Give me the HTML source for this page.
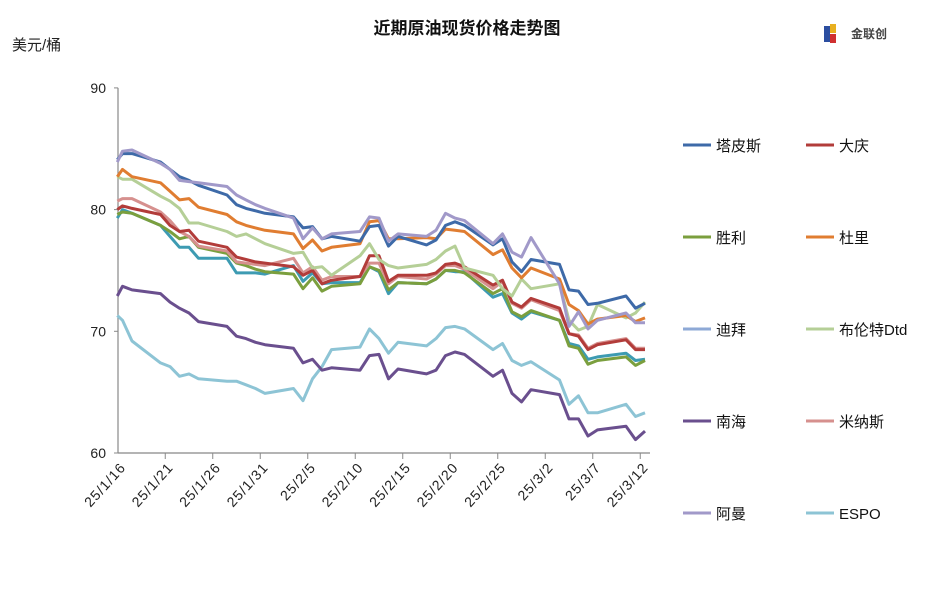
<!DOCTYPE html>
<html><head><meta charset="utf-8">
<style>
body{margin:0;background:#fff;}
svg{display:block;font-family:"Liberation Sans","Noto Sans CJK SC",sans-serif;}
</style></head>
<body>
<svg id="chart" width="937" height="601" viewBox="0 0 937 601">
<text x="467" y="34" text-anchor="middle" font-size="17" font-weight="bold" fill="#111">近期原油现货价格走势图</text>
<text x="12" y="50" font-size="15" fill="#222">美元/桶</text>
<g>
<rect x="824" y="26" width="6" height="16" fill="#2b4ea0"/>
<rect x="830" y="24" width="6" height="9" fill="#e8b020"/>
<rect x="830" y="34" width="6" height="9" fill="#d03030"/>
<text x="851" y="38" font-size="12" font-weight="bold" fill="#444">金联创</text>
</g>
<g id="axes"></g>
<g id="series"></g>
<g id="legend"></g>
</svg>
<script>
const days = [-0.55,0,1,4,5,6,7,8,11,12,13,14,15,18,19,20,21,22,25,26,27,28,29,32,33,34,35,36,39,40,41,42,43,46,47,48,49,50,53,54,55];
const tickDays = [0,5,10,15,20,25,30,35,40,45,50,55];
const tickLabels = ["25/1/16","25/1/21","25/1/26","25/1/31","25/2/5","25/2/10","25/2/15","25/2/20","25/2/25","25/3/2","25/3/7","25/3/12"];
const yTicks = [60,70,80,90];
const seriesNames = ["塔皮斯","大庆","胜利","杜里","迪拜","布伦特Dtd","南海","米纳斯","阿曼","ESPO"];
const tapis = [84.1,84.6,84.6,83.9,83.3,82.7,82.4,82.0,81.2,80.4,80.1,79.9,79.7,79.4,78.5,78.6,77.6,77.8,77.4,78.6,78.7,77.0,77.8,77.1,77.5,78.7,79.0,78.7,77.1,77.6,75.7,74.9,75.9,75.5,73.4,73.3,72.2,72.3,72.9,71.9,72.3];
const daqing = [80.0,80.3,80.1,79.6,78.7,78.2,78.3,77.4,76.9,76.1,75.9,75.7,75.6,75.3,74.6,75.0,73.9,74.2,74.5,76.2,76.2,74.1,74.6,74.6,74.8,75.5,75.6,75.3,73.8,74.2,72.4,72.0,72.7,71.9,69.8,69.6,68.5,68.9,69.3,68.5,68.5];
const shengli = [79.6,79.8,79.7,78.7,78.2,77.6,77.8,76.9,76.4,75.6,75.4,75.1,74.9,74.7,73.5,74.4,73.3,73.7,73.9,75.3,75.0,73.4,74.0,73.9,74.3,75.0,75.0,74.8,73.1,73.5,71.6,71.2,71.7,70.9,68.8,68.6,67.3,67.6,67.9,67.2,67.6];
const duri = [82.7,83.3,82.7,82.2,81.5,80.8,80.9,80.2,79.6,79.0,78.7,78.5,78.3,78.0,76.8,77.5,76.6,76.9,77.2,79.0,79.1,77.6,77.6,77.7,77.6,78.4,78.3,78.2,76.3,76.7,75.2,74.4,75.2,74.3,72.2,71.7,70.6,71.0,71.3,70.8,71.1];
const dubai = [79.3,80.0,79.7,78.7,77.8,76.9,76.9,76.0,76.0,74.8,74.8,74.8,74.7,75.4,74.1,74.8,73.9,74.0,74.0,75.3,74.9,73.1,74.0,73.9,74.3,75.0,74.9,74.9,72.8,73.1,71.5,71.0,71.6,70.9,69.0,68.8,67.7,67.9,68.2,67.6,67.7];
const brent = [82.7,82.5,82.5,81.1,80.7,80.1,78.9,78.9,78.2,77.8,78.0,77.6,77.2,76.4,76.5,75.2,75.3,74.6,76.2,77.2,75.9,75.4,75.2,75.5,75.9,76.6,77.0,75.2,74.6,73.5,72.9,74.3,73.5,73.9,70.9,70.1,70.4,72.2,71.1,71.5,72.4];
const nanhai = [72.9,73.7,73.4,73.1,72.4,71.9,71.5,70.8,70.4,69.6,69.4,69.1,68.9,68.6,67.4,67.7,66.8,67.0,66.8,68.0,68.1,66.1,66.9,66.5,66.8,68.0,68.3,68.1,66.3,66.8,64.9,64.2,65.2,64.8,62.8,62.8,61.4,61.9,62.2,61.1,61.8];
const minas = [80.7,80.9,80.9,79.8,79.1,78.2,77.8,77.0,76.6,75.7,75.6,75.5,75.4,76.0,74.8,75.3,74.2,74.5,74.5,75.6,75.6,73.9,74.5,74.3,74.7,75.4,75.4,75.1,73.5,74.1,72.3,71.9,72.6,71.7,69.8,69.7,68.6,69.0,69.4,68.6,68.6];
const oman = [83.9,84.8,84.9,83.8,83.3,82.4,82.3,82.2,81.9,81.2,80.8,80.4,80.1,79.3,77.6,78.5,77.6,78.0,78.2,79.4,79.3,77.4,78.0,77.8,78.3,79.7,79.3,79.1,77.2,78.0,76.5,76.1,77.7,73.9,70.4,71.6,70.2,70.9,71.5,70.7,70.7];
const espo = [71.3,70.9,69.2,67.4,67.1,66.3,66.5,66.1,65.9,65.9,65.6,65.3,64.9,65.3,64.3,66.1,67.1,68.5,68.7,70.2,69.4,68.2,69.1,68.8,69.4,70.3,70.4,70.2,68.5,69.0,67.6,67.2,67.5,66.0,64.0,64.7,63.3,63.3,64.0,63.0,63.3];

const allSeries = [tapis,daqing,shengli,duri,dubai,brent,nanhai,minas,oman,espo];
const colors = ["#3e6aa8","#b23c3a","#7b9f3e","#e07d31","#3d9bb2","#b5cf97","#6a4f8e","#d6908e","#a199c9","#8dc4d5"];
const legendColors = ["#3e6aa8","#b23c3a","#7b9f3e","#e07d31","#8ea9d6","#b5cf97","#6a4f8e","#d6908e","#a199c9","#8dc4d5"];
const slugs = ["tapis","daqing","shengli","duri","dubai","brent-dtd","nanhai","minas","oman","espo"];
const drawOrder = [9,6,4,2,7,1,5,3,0,8];

const NS="http://www.w3.org/2000/svg";
function xScale(d){return 122.5+9.5*d;}
function yScale(v){return 453-(v-60)*12.17;}
function mk(tag,attrs,parent){const e=document.createElementNS(NS,tag);for(const k in attrs)e.setAttribute(k,attrs[k]);parent.appendChild(e);return e;}

const axes=document.getElementById('axes');
let yl=mk('line',{x1:118,y1:yScale(90),x2:118,y2:yScale(60),stroke:'#888','stroke-width':1.2},axes);


let xl=mk('line',{x1:118,y1:yScale(60),x2:650,y2:yScale(60),stroke:'#888','stroke-width':1.2},axes);


yTicks.forEach(v=>{
  const y=yScale(v);
  const tm=mk('line',{x1:114,y1:y,x2:118,y2:y,stroke:'#888'},axes);
  
  
  const t=mk('text',{x:106,y:y+5,'text-anchor':'end','font-size':14,fill:'#222'},axes);
  t.textContent=v;
  
  
});
tickDays.forEach((d,i)=>{
  const xt=xScale(d)+42.75;
  if(i<tickDays.length-1){
    const tm=mk('line',{x1:xt,y1:453,x2:xt,y2:459,stroke:'#888'},axes);
    
    
  }
  const tx=xScale(d)+4, ty=468;
  const t=mk('text',{x:tx,y:ty,'text-anchor':'end','font-size':14,'letter-spacing':'1',fill:'#222',transform:`rotate(-48 ${tx} ${ty})`},axes);
  t.textContent=tickLabels[i];
  
  
});

const sg=document.getElementById('series');
drawOrder.forEach(si=>{
  const vals=allSeries[si];
  const pts=days.map((d,i)=>xScale(d).toFixed(1)+','+yScale(vals[i]).toFixed(1)).join(' ');
  const pl=mk('polyline',{points:pts,fill:'none',stroke:colors[si],'stroke-width':3,'stroke-linejoin':'round'},sg);
  
  
});

const lg=document.getElementById('legend');
seriesNames.forEach((n,i)=>{
  const col=i%2,row=Math.floor(i/2);
  const x=683+col*123,y=145+row*92;
  const g=mk('g',{},lg);
  
  
  mk('line',{x1:x,y1:y,x2:x+28,y2:y,stroke:legendColors[i],'stroke-width':3},g);
  const t=mk('text',{x:x+33,y:y+6,'font-size':15,fill:'#111'},g);
  t.textContent=n;
});
</script>
</body></html>
